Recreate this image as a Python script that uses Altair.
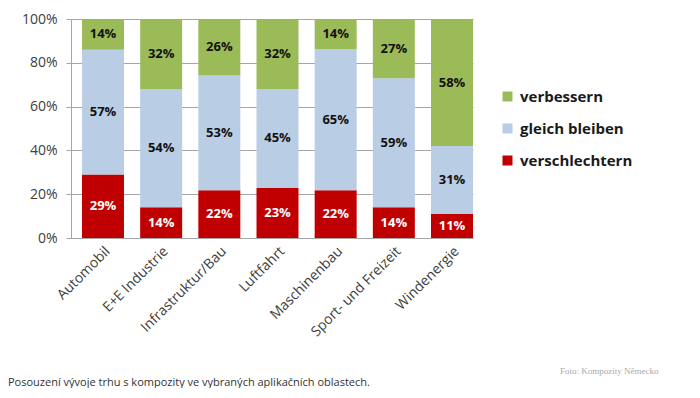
import altair as alt
import pandas as pd

categories = ["Automobil", "E+E Industrie", "Infrastruktur/Bau", "Luftfahrt",
              "Maschinenbau", "Sport- und Freizeit", "Windenergie"]
verschlechtern = [29, 14, 22, 23, 22, 14, 11]
gleich_bleiben = [57, 54, 53, 45, 65, 59, 31]
verbessern = [14, 32, 26, 32, 14, 27, 58]

series_names = ["verbessern", "gleich bleiben", "verschlechtern"]
series_colors = ["#9BBB59", "#B9CDE5", "#C00000"]

caption = "Posouzení vývoje trhu s kompozity ve vybraných aplikačních oblastech."
credit = "Foto: Kompozity Německo"

rows = []
for i, c in enumerate(categories):
    rows.append({"cat": c, "series": "verschlechtern", "value": verschlechtern[i], "order": 0})
    rows.append({"cat": c, "series": "gleich bleiben", "value": gleich_bleiben[i], "order": 1})
    rows.append({"cat": c, "series": "verbessern", "value": verbessern[i], "order": 2})
df = pd.DataFrame(rows)

FONT = "Open Sans"
GRID = "#A6A6A6"
TOP = 11

base = alt.Chart(df).transform_stack(
    stack="value", groupby=["cat"], as_=["y0", "y1"], offset="normalize",
    sort=[alt.SortField("order", order="ascending")]
).transform_calculate(
    mid="(datum.y0 + datum.y1) / 2",
    label="datum.value + '%'"
)

xenc = alt.X("cat:N", sort=categories, title=None,
             scale=alt.Scale(paddingInner=0.278, paddingOuter=0.0945, align=1),
             axis=alt.Axis(labelAngle=-45, labelFont=FONT, labelFontSize=14,
                           labelColor="#404040", ticks=False, domainColor=GRID,
                           labelPadding=6))

bars = base.mark_bar().encode(
    x=xenc,
    y=alt.Y("y0:Q", title=None, scale=alt.Scale(domain=[0, 1]),
            axis=alt.Axis(values=[0, 0.2, 0.4, 0.6, 0.8, 1.0], format=".0%",
                          labelFont=FONT, labelFontSize=14, labelColor="#404040",
                          gridColor=GRID, domainColor=GRID, tickColor=GRID,
                          tickSize=5, labelPadding=9, grid=True)),
    y2="y1:Q",
    color=alt.Color("series:N",
                    scale=alt.Scale(domain=series_names, range=series_colors),
                    legend=alt.Legend(title=None, orient="none", legendX=429,
                                      legendY=80 - (TOP - 1),
                                      symbolType="square", symbolSize=100,
                                      symbolStrokeWidth=0, labelFont=FONT,
                                      labelFontSize=15, labelFontWeight="bold",
                                      labelColor="#1a1a1a", labelOffset=5,
                                      rowPadding=16))
)

labels = base.mark_text(font=FONT, fontSize=13, fontWeight="bold",
                        baseline="middle").encode(
    x=alt.X("cat:N", sort=categories),
    y=alt.Y("mid:Q"),
    text="label:N",
    color=alt.condition(alt.datum.series == "verschlechtern",
                        alt.value("white"), alt.value("#111111"))
)

cap = alt.Chart(pd.DataFrame({"t": [caption]})).mark_text(
    align="left", baseline="middle", font=FONT, fontSize=11, color="#333333"
).encode(x=alt.value(-63), y=alt.value(374 - (TOP - 1)), text="t:N")

cred = alt.Chart(pd.DataFrame({"t": [credit]})).mark_text(
    align="left", baseline="middle", font="Liberation Serif", fontSize=9, color="#AAAAAA"
).encode(x=alt.value(489), y=alt.value(362 - (TOP - 1)), text="t:N")

chart = alt.layer(bars, labels, cap, cred).properties(
    width=402, height=229 - (TOP - 1),
    autosize=alt.AutoSizeParams(type="none"),
    padding={"left": 63, "top": TOP, "right": 219, "bottom": 150}
).configure_view(strokeWidth=0)

chart.save("out.html", embed_options={"renderer": "svg", "actions": False})
